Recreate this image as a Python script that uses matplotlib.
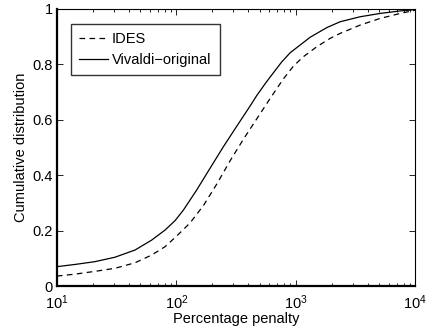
import matplotlib
matplotlib.use("Agg")
import matplotlib.pyplot as plt

plt.rcParams['font.family'] = ['Liberation Sans', 'DejaVu Sans']
plt.rcParams['mathtext.fontset'] = 'custom'
plt.rcParams['mathtext.rm'] = 'Liberation Sans'

vivaldi_x = [10, 14.2, 20.8, 30.6, 45.1, 62.2, 80.4, 97.5, 114.5, 148.2, 191.5, 247.8,
             320.8, 414.9, 472, 560, 650.6, 760, 897.4, 1320, 1602, 1824, 2355, 3467, 5096, 7500, 9100, 10000]
vivaldi_y = [0.07, 0.078, 0.088, 0.104, 0.130, 0.166, 0.202, 0.236, 0.274, 0.347, 0.425, 0.503,
             0.577, 0.650, 0.688, 0.733, 0.770, 0.808, 0.842, 0.898, 0.919, 0.933, 0.954, 0.972, 0.984, 0.993, 0.996, 0.998]

ides_x = [10, 14.2, 20.8, 30.6, 45.1, 62.2, 80.4, 97.5, 114.5, 130.3, 168.3, 218, 281.8,
          364.6, 441.9, 535.8, 650.6, 788.8, 957, 1160, 1503, 1942, 2355, 3467, 5096, 7500, 9640, 10000]
ides_y = [0.036, 0.043, 0.053, 0.064, 0.084, 0.112, 0.142, 0.175, 0.204, 0.228, 0.290, 0.368, 0.452,
          0.530, 0.585, 0.640, 0.695, 0.748, 0.794, 0.828, 0.864, 0.894, 0.912, 0.942, 0.966, 0.984, 0.994, 0.996]

yticks = [0, 0.2, 0.4, 0.6, 0.8, 1]
ytick_labels = ['0', '0.2', '0.4', '0.6', '0.8', '1']
xticks = [10, 100, 1000, 10000]

fig = plt.figure(figsize=(4.28, 3.33), dpi=100)
ax = fig.add_axes([0.133, 0.141, 0.837, 0.832])

ax.plot(ides_x, ides_y, color='black', linestyle=(0, (4.5, 3.5)), linewidth=0.9, label='IDES')
ax.plot(vivaldi_x, vivaldi_y, color='black', linestyle='-', linewidth=0.9, label='Vivaldi\u2212original')

ax.set_xscale('log')
ax.set_xlim(10, 10000)
ax.set_ylim(0, 1)
ax.set_yticks(yticks)
ax.set_yticklabels(ytick_labels)
ax.set_xticks(xticks)
ax.set_xlabel('Percentage penalty', fontsize=10.5, labelpad=0)
ax.set_ylabel('Cumulative distribution', fontsize=10.5, labelpad=3)

ax.tick_params(which='both', direction='in', top=True, right=True, labelsize=10.5)
ax.tick_params(which='major', length=4, width=0.6)
ax.tick_params(which='minor', length=2.5, width=0.6)
ax.tick_params(axis='x', pad=5)
ax.tick_params(axis='y', pad=3)

for s in ['left', 'bottom']:
    ax.spines[s].set_linewidth(1.6)
for s in ['top', 'right']:
    ax.spines[s].set_linewidth(0.8)

leg = ax.legend(loc='upper left', bbox_to_anchor=(0.038, 0.946), fontsize=10.5,
                frameon=True, fancybox=False, edgecolor='black',
                handlelength=2.0, handletextpad=0.3, borderpad=0.55, labelspacing=0.5,
                borderaxespad=0)
leg.get_frame().set_linewidth(1.0)

fig.savefig('out.png', dpi=100)
